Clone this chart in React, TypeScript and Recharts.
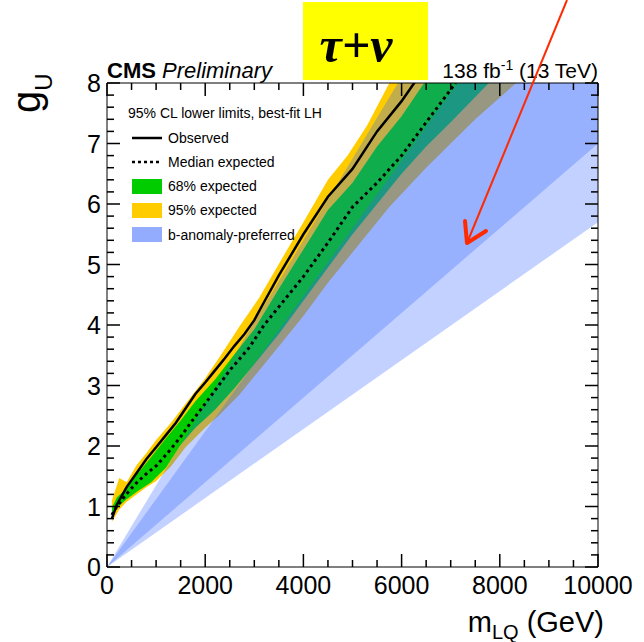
import React from 'react';
import { ComposedChart, Area, Line, XAxis, YAxis } from 'recharts';

const FONT = '"Liberation Sans", Arial, Helvetica, sans-serif';

// ---- data (m_LQ in GeV, g_U) ----
const yellowMass = [100, 250, 400, 600, 800, 1000, 1300, 1600, 2000, 2300, 2700, 3100, 3600, 4000, 4500, 4900, 5300, 5750, 6500, 7500, 8400];
const yellowLow = [0.75, 0.95, 1.08, 1.2, 1.32, 1.42, 1.66, 1.98, 2.3, 2.52, 2.85, 3.25, 3.75, 4.15, 4.7, 5.1, 5.5, 5.95, 6.6, 7.4, 8.05];
const yellowHigh = [1.1, 1.47, 1.4, 1.68, 1.88, 2.1, 2.38, 2.7, 3.12, 3.48, 3.98, 4.45, 5.15, 5.7, 6.4, 6.8, 7.3, 8.0, 9.0, 10.2, 11.2];

const greenMass = [100, 200, 400, 600, 900, 1200, 1500, 1800, 2200, 2600, 3000, 3500, 4000, 4500, 5000, 5500, 6000, 6500, 7000, 7800];
const greenLow = [0.83, 0.98, 1.12, 1.24, 1.4, 1.64, 2.02, 2.3, 2.6, 2.96, 3.35, 3.85, 4.4, 4.95, 5.5, 6.0, 6.5, 6.95, 7.35, 8.02];
const greenHigh = [0.98, 1.15, 1.3, 1.52, 1.82, 2.13, 2.42, 2.74, 3.1, 3.52, 3.93, 4.6, 5.25, 5.9, 6.35, 6.95, 7.45, 8.05, 8.7, 9.6];

const obsMass = [100, 200, 400, 600, 800, 1000, 1200, 1400, 1600, 1800, 2000, 2200, 2400, 2600, 2800, 3000, 3200, 3500, 4000, 4500, 5000, 5500, 6000, 6300];
const obsLimit = [0.8, 1.03, 1.32, 1.55, 1.78, 1.98, 2.18, 2.38, 2.62, 2.86, 3.05, 3.25, 3.45, 3.66, 3.85, 4.08, 4.38, 4.82, 5.5, 6.12, 6.58, 7.2, 7.7, 8.05];

const expMass = [100, 200, 400, 600, 800, 1000, 1250, 1500, 1700, 2000, 2200, 2500, 2900, 3200, 3500, 4000, 4500, 5000, 5500, 6000, 6500, 7100];
const expLimit = [0.86, 1.0, 1.21, 1.39, 1.54, 1.67, 1.9, 2.15, 2.38, 2.7, 2.92, 3.25, 3.63, 4.0, 4.3, 4.8, 5.36, 5.95, 6.35, 6.8, 7.35, 8.0];

// b-anomaly preferred wedges (g_U proportional to m_LQ)
const bMass = [0, 10000];
const bOuterLow = [0, 5.7];
const bOuterHigh = [0, 13.5];
const bInnerLow = [0, 7.0];
const bInnerHigh = [0, 11.2];

// ---- axis ticks ----
const xMajorTicks = [0, 2000, 4000, 6000, 8000, 10000];
const xMinorTicks = [0, 500, 1000, 1500, 2000, 2500, 3000, 3500, 4000, 4500, 5000, 5500, 6000, 6500, 7000, 7500, 8000, 8500, 9000, 9500, 10000];
const yMajorTicks = [0, 1, 2, 3, 4, 5, 6, 7, 8];
const yMinorTicks = Array.from({ length: 41 }, (_, i) => (i * 2) / 10);

const X_MIN = 0, X_MAX = 10000, Y_MIN = 0, Y_MAX = 8;

const band = (ms: number[], lo: number[], hi: number[]) => ms.map((m, i) => ({ m, band: [lo[i], hi[i]] }));
const curve = (ms: number[], g: number[]) => ms.map((m, i) => ({ m, g: g[i] }));

const yellowData = band(yellowMass, yellowLow, yellowHigh);
const greenData = band(greenMass, greenLow, greenHigh);
const obsData = curve(obsMass, obsLimit);
const expData = curve(expMass, expLimit);
const bOuterData = band(bMass, bOuterLow, bOuterHigh);
const bInnerData = band(bMass, bInnerLow, bInnerHigh);

// ---- layout (plot frame) ----
const W = 644, H = 642;
const MARGIN = { top: 73, right: 36, bottom: 45, left: 77 };
const X_AX_H = 30, TOP_AX_H = 10, Y_AX_W = 30, RIGHT_AX_W = 10;
const PL = MARGIN.left + Y_AX_W;
const PR = W - MARGIN.right - RIGHT_AX_W;
const PT = MARGIN.top + TOP_AX_H;
const PB = H - MARGIN.bottom - X_AX_H;
const sx = (v: number) => PL + ((v - X_MIN) / (X_MAX - X_MIN)) * (PR - PL);
const sy = (v: number) => PB - ((v - Y_MIN) / (Y_MAX - Y_MIN)) * (PB - PT);
const isMajX = (v: number) => v % 2000 === 0;
const isMajY = (v: number) => Math.abs(v - Math.round(v)) < 1e-6;
const MAJ = 13, MIN = 7;

const BottomLabel = (p: any) => (
  <text x={p.x} y={p.y + 27} textAnchor="middle" fontSize={25} fontFamily={FONT} fill="#000" stroke="none">
    {p.payload.value}
  </text>
);
const LeftLabel = (p: any) => (
  <text x={p.x - 6} y={p.y + 9} textAnchor="end" fontSize={25} fontFamily={FONT} fill="#000" stroke="none">
    {p.payload.value}
  </text>
);
const NoLabel = () => <g />;

const BLUE = '#3666ff';
const BLUE_OP = 0.3;
const AX = { stroke: '#000', strokeWidth: 1 };

export default function App() {
  return (
    <div style={{ position: 'absolute', left: 0, top: 0, width: W, height: H, background: '#fff' }}>
      <ComposedChart width={W} height={H} margin={MARGIN}>
        <XAxis xAxisId="b" dataKey="m" type="number" domain={[X_MIN, X_MAX]} ticks={xMajorTicks} interval={0} height={X_AX_H}
          tickSize={0} tickMargin={0} tickLine={false} tick={BottomLabel} axisLine={AX} allowDataOverflow />
        <XAxis xAxisId="t" orientation="top" dataKey="m" type="number" domain={[X_MIN, X_MAX]} ticks={xMajorTicks} interval={0} height={TOP_AX_H}
          tickSize={0} tickMargin={0} tickLine={false} tick={NoLabel} axisLine={AX} allowDataOverflow />
        <YAxis yAxisId="l" type="number" domain={[Y_MIN, Y_MAX]} ticks={yMajorTicks} interval={0} width={Y_AX_W}
          tickSize={0} tickMargin={0} tickLine={false} tick={LeftLabel} axisLine={AX} allowDataOverflow />
        <YAxis yAxisId="r" orientation="right" type="number" domain={[Y_MIN, Y_MAX]} ticks={yMajorTicks} interval={0} width={RIGHT_AX_W}
          tickSize={0} tickMargin={0} tickLine={false} tick={NoLabel} axisLine={AX} allowDataOverflow />

        <Area xAxisId="b" yAxisId="l" data={yellowData} dataKey="band" type="linear" fill="#ffcc00" fillOpacity={1} stroke="none" isAnimationActive={false} dot={false} activeDot={false} />
        <Area xAxisId="b" yAxisId="l" data={greenData} dataKey="band" type="linear" fill="#00cc00" fillOpacity={1} stroke="none" isAnimationActive={false} dot={false} activeDot={false} />
        <Line xAxisId="b" yAxisId="l" data={obsData} dataKey="g" type="linear" stroke="#000" strokeWidth={2.5} dot={false} activeDot={false} isAnimationActive={false} />
        <Line xAxisId="b" yAxisId="l" data={expData} dataKey="g" type="linear" stroke="#000" strokeWidth={3} strokeDasharray="3 3.5" dot={false} activeDot={false} isAnimationActive={false} />
        <Area xAxisId="b" yAxisId="l" data={bOuterData} dataKey="band" type="linear" fill={BLUE} fillOpacity={BLUE_OP} stroke="none" isAnimationActive={false} dot={false} activeDot={false} />
        <Area xAxisId="b" yAxisId="l" data={bInnerData} dataKey="band" type="linear" fill={BLUE} fillOpacity={BLUE_OP} stroke="none" isAnimationActive={false} dot={false} activeDot={false} />
      </ComposedChart>

      <svg width={W} height={H} style={{ position: 'absolute', left: 0, top: 0, pointerEvents: 'none' }}>
        {/* inward ROOT-style tick marks on all four sides */}
        {xMinorTicks.map((v) => {
          const L = isMajX(v) ? MAJ : MIN;
          const x = sx(v);
          return (
            <g key={`x${v}`}>
              <rect x={x - 0.75} y={PB - L} width={1.5} height={L} fill="#000" />
              <rect x={x - 0.75} y={PT} width={1.5} height={L} fill="#000" />
            </g>
          );
        })}
        {yMinorTicks.map((v) => {
          const L = isMajY(v) ? MAJ : MIN;
          const y = sy(v);
          return (
            <g key={`y${v}`}>
              <rect x={PL} y={y - 0.75} width={L} height={1.5} fill="#000" />
              <rect x={PR - L} y={y - 0.75} width={L} height={1.5} fill="#000" />
            </g>
          );
        })}

        {/* header */}
        <rect x={303} y={2} width={125} height={78} fill="#ffff00" />
        <text x={356} y={62} textAnchor="middle" fontSize={50} fontFamily='"Liberation Serif", "DejaVu Serif", serif' fontStyle="italic" fontWeight="bold" fill="#000">
          τ+ν
        </text>
        <text x={107} y={78} fontSize={22} fontFamily={FONT} fill="#000">
          <tspan fontWeight="bold">CMS</tspan>
          <tspan fontStyle="italic"> Preliminary</tspan>
        </text>
        <text x={598} y={78} textAnchor="end" fontSize={21} fontFamily={FONT} fill="#000">
          138 fb
          <tspan fontSize={14} dy={-8}>-1</tspan>
          <tspan dy={8}> (13 TeV)</tspan>
        </text>

        {/* legend */}
        <text x={128} y={118} fontSize={14} fontFamily={FONT} fill="#000">95% CL lower limits, best-fit LH</text>
        <line x1={132} y1={138} x2={162} y2={138} stroke="#000" strokeWidth={2.5} />
        <text x={168} y={143} fontSize={14} fontFamily={FONT} fill="#000">Observed</text>
        <line x1={132} y1={162} x2={162} y2={162} stroke="#000" strokeWidth={2.5} strokeDasharray="3 3" />
        <text x={168} y={167} fontSize={14} fontFamily={FONT} fill="#000">Median expected</text>
        <rect x={132} y={179} width={30} height={15} fill="#00cc00" />
        <text x={168} y={191} fontSize={14} fontFamily={FONT} fill="#000">68% expected</text>
        <rect x={132} y={203} width={30} height={15} fill="#ffcc00" />
        <text x={168} y={215} fontSize={14} fontFamily={FONT} fill="#000">95% expected</text>
        <rect x={132} y={227} width={30} height={15} fill="#94acfe" />
        <text x={168} y={240} fontSize={14} fontFamily={FONT} fill="#000">b-anomaly-preferred</text>

        {/* axis titles */}
        <text transform="translate(40,113) rotate(-90)" fontSize={40} fontFamily={FONT} fill="#000">
          g<tspan fontSize={24} dy={12}>U</tspan>
        </text>
        <text x={604} y={632} textAnchor="end" fontSize={29} fontFamily={FONT} fill="#000">
          m<tspan fontSize={20} dy={7}>LQ</tspan>
          <tspan dy={-7}> (GeV)</tspan>
        </text>

        {/* red arrow annotation */}
        <line x1={567} y1={0} x2={467} y2={243} stroke="#ff2a00" strokeWidth={2} />
        <polyline points="465,221 467,243 486,231" fill="none" stroke="#ff2a00" strokeWidth={4} strokeLinejoin="round" strokeLinecap="round" />
      </svg>
    </div>
  );
}
